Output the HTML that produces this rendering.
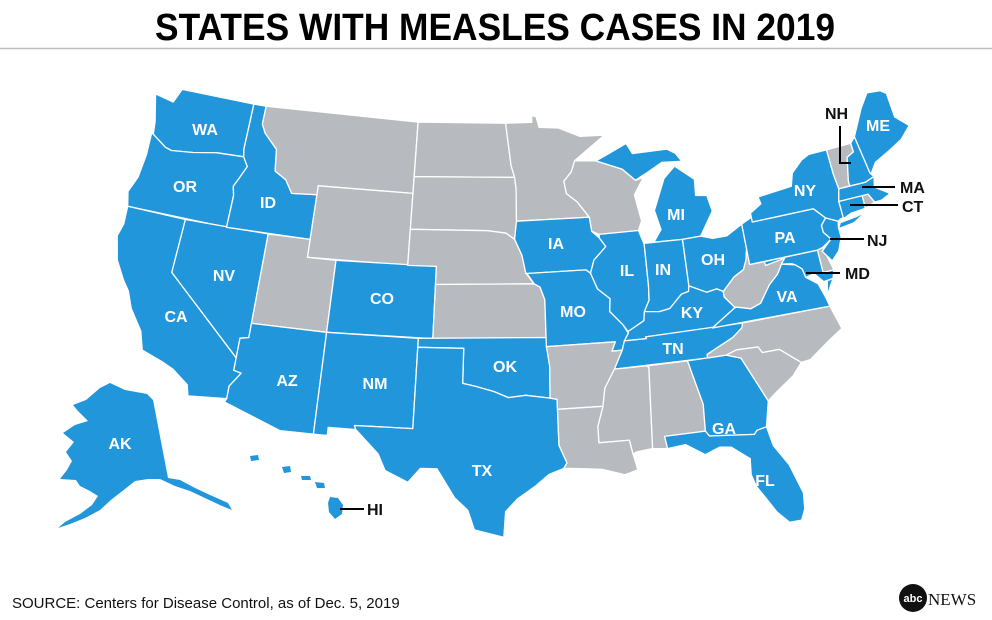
<!DOCTYPE html>
<html><head><meta charset="utf-8">
<style>
html,body{margin:0;padding:0;background:#fff;width:992px;height:620px;overflow:hidden}
svg{display:block}
</style></head>
<body>
<svg id="m" width="992" height="620" viewBox="0 0 992 620" xmlns="http://www.w3.org/2000/svg">
<text x="155" y="40" textLength="680" lengthAdjust="spacingAndGlyphs" font-family="Liberation Sans Narrow, Liberation Sans, sans-serif" font-weight="bold" font-size="38">STATES WITH MEASLES CASES IN 2019</text>
<line x1="0" y1="48.5" x2="992" y2="48.5" stroke="#bdbdbd" stroke-width="1.5"/>
<g id="states"></g>
<g id="labels" font-family="Liberation Sans, sans-serif" font-weight="bold" font-size="16" fill="#fff" text-anchor="middle"></g>
<g stroke="#000" stroke-width="2" fill="none">
<polyline points="840,126 840,163 851,163"/>
<line x1="862" y1="187" x2="895" y2="187"/>
<line x1="850" y1="205" x2="898" y2="205"/>
<line x1="830" y1="239" x2="864" y2="239"/>
<line x1="806" y1="273" x2="840" y2="273"/>
<line x1="340" y1="509" x2="364" y2="509"/>
</g>
<g font-family="Liberation Sans, sans-serif" font-weight="bold" font-size="16" fill="#111">
<text x="825" y="119">NH</text>
<text x="900" y="193">MA</text>
<text x="902" y="212">CT</text>
<text x="867" y="246">NJ</text>
<text x="845" y="279">MD</text>
<text x="367" y="515">HI</text>
</g>
<text x="12" y="608" font-family="Liberation Sans Narrow, Liberation Sans, sans-serif" font-size="15" fill="#111">SOURCE: Centers for Disease Control, as of Dec. 5, 2019</text>
<circle cx="913" cy="598" r="14" fill="#111"/>
<text x="913" y="602" text-anchor="middle" font-family="Liberation Sans, sans-serif" font-weight="bold" font-size="11" fill="#fff">abc</text>
<text x="928" y="605" font-family="Liberation Serif, serif" font-size="17" fill="#111">NEWS</text>
</svg>
<script>
var B="#2196db",G="#b7babe";
var S={
WA:[[-124.7,48.4],[-123.2,48.2],[-122.8,49],[-117.03,49],[-117.03,46.42],[-116.92,46.0],[-119.0,45.95],[-120.7,45.7],[-122.3,45.55],[-122.8,45.65],[-123.95,46.2],[-124.1,46.9]],
OR:[[-124.1,46.25],[-123.95,46.2],[-122.8,45.65],[-122.3,45.55],[-120.7,45.7],[-119,45.95],[-116.92,46.0],[-116.5,45.5],[-116.9,44.8],[-117.2,44.3],[-117.03,43.8],[-117.03,42],[-124.2,42],[-124.5,42.8],[-124.1,43.7],[-124.0,45]],
CA:[[-124.2,42],[-120,42],[-120,39],[-114.6,35],[-114.6,34.3],[-114.1,34.2],[-114.7,33.4],[-114.7,32.7],[-117.1,32.5],[-117.3,33.1],[-118.4,33.8],[-119.2,34.1],[-120.6,34.5],[-121.0,35.5],[-122.0,36.6],[-122.5,37.5],[-123.0,38.0],[-123.8,39.0],[-124.3,40.3],[-124.1,41.0]],
NV:[[-120,42],[-114.04,42],[-114.04,36.2],[-114.6,36.1],[-114.6,35],[-120,39]],
ID:[[-117.03,49],[-116.05,49],[-116.05,47.98],[-115.7,47.5],[-114.6,46.7],[-114.4,45.5],[-113.5,45.1],[-112.9,44.4],[-111.05,44.5],[-111.05,42],[-117.03,42],[-117.03,43.8],[-117.2,44.3],[-116.9,44.8],[-116.5,45.5],[-116.92,46.0],[-117.03,46.42]],
MT:[[-116.05,49],[-104.05,49],[-104.05,45],[-111.05,45],[-111.05,44.5],[-112.9,44.4],[-113.5,45.1],[-114.4,45.5],[-114.6,46.7],[-115.7,47.5],[-116.05,47.98]],
WY:[[-111.05,45],[-104.05,45],[-104.05,41],[-111.05,41]],
UT:[[-114.04,42],[-111.05,42],[-111.05,41],[-109.05,41],[-109.05,37],[-114.04,37]],
CO:[[-109.05,41],[-102.05,41],[-102.05,37],[-109.05,37]],
AZ:[[-114.04,37],[-109.05,37],[-109.05,31.33],[-111.1,31.33],[-114.8,32.5],[-114.7,32.7],[-114.7,33.4],[-114.1,34.2],[-114.6,34.3],[-114.6,35],[-114.6,36.1],[-114.04,36.2]],
NM:[[-109.05,37],[-103,37],[-103,32],[-106.6,32],[-106.5,31.78],[-108.2,31.78],[-108.2,31.33],[-109.05,31.33]],
ND:[[-104.05,49],[-97.2,49],[-96.8,46.6],[-96.55,45.94],[-104.05,45.94]],
SD:[[-104.05,45.94],[-96.55,45.94],[-96.45,45.3],[-96.45,43.5],[-96.6,42.5],[-97.2,42.85],[-98.5,43.0],[-104.05,43]],
NE:[[-104.05,43],[-98.5,43],[-97.2,42.85],[-96.6,42.5],[-96.1,41.6],[-95.85,40.6],[-95.3,40],[-102.05,40],[-102.05,41],[-104.05,41]],
KS:[[-102.05,40],[-95.3,40],[-94.9,39.8],[-94.6,39.1],[-94.6,37],[-102.05,37]],
OK:[[-103,37],[-94.6,37],[-94.43,35.4],[-94.48,33.64],[-96,33.85],[-97.1,33.75],[-98,34.1],[-99.2,34.4],[-100,34.56],[-100,36.5],[-103,36.5]],
TX:[[-106.6,32],[-103,32],[-103,36.5],[-100,36.5],[-100,34.56],[-99.2,34.4],[-98,34.1],[-97.1,33.75],[-96,33.85],[-94.48,33.64],[-94.04,33.55],[-94.04,31],[-93.6,30.0],[-93.8,29.7],[-94.7,29.4],[-95.5,28.8],[-96.6,28.1],[-97.3,27.4],[-97.4,26.0],[-97.2,25.9],[-99.1,26.4],[-99.5,27.5],[-100.3,28.2],[-101.4,29.8],[-102.4,29.8],[-103.1,29.0],[-104.5,29.6],[-105,30.5],[-106.5,31.78]],
MN:[[-97.2,49],[-95.15,49],[-95.15,49.38],[-94.8,49.3],[-94.6,48.7],[-93.1,48.6],[-91.5,48.05],[-89.6,48.0],[-92.0,46.7],[-92.3,46.1],[-92.9,45.6],[-92.75,44.9],[-92.0,44.4],[-91.2,43.5],[-96.45,43.5],[-96.45,45.3],[-96.55,45.94],[-96.8,46.6]],
IA:[[-96.45,43.5],[-91.2,43.5],[-91.1,42.7],[-90.6,42.3],[-90.2,41.8],[-91.1,41.1],[-91.4,40.4],[-91.7,40.6],[-95.77,40.58],[-95.85,40.6],[-96.1,41.6],[-96.6,42.5]],
MO:[[-95.77,40.58],[-91.7,40.6],[-91.4,40.4],[-91.0,39.5],[-90.2,38.9],[-90.3,38.2],[-89.5,37.4],[-89.2,36.9],[-89.5,36.5],[-89.7,36.0],[-90.37,36.0],[-90.1,36.5],[-94.6,36.5],[-94.6,39.1],[-94.9,39.8],[-95.3,40]],
AR:[[-94.6,36.5],[-90.1,36.5],[-90.37,36.0],[-89.7,36.0],[-90.1,35.1],[-91.0,34.0],[-91.2,33.0],[-94.04,33.0],[-94.04,33.55],[-94.48,33.64],[-94.43,35.4]],
LA:[[-94.04,33.0],[-91.2,33.0],[-91.6,31.9],[-91.6,31.0],[-89.75,31.0],[-89.6,30.2],[-89.4,29.3],[-90.2,29.1],[-91.5,29.5],[-92.5,29.6],[-93.8,29.7],[-93.6,30.0],[-94.04,31]],
WI:[[-92.0,46.7],[-90.4,46.6],[-88.5,46.0],[-87.6,45.3],[-87.0,45.4],[-87.8,44.5],[-87.5,43.0],[-87.8,42.5],[-90.6,42.5],[-91.1,42.7],[-91.2,43.5],[-92.0,44.4],[-92.75,44.9],[-92.9,45.6],[-92.3,46.1]],
IL:[[-90.6,42.5],[-87.8,42.5],[-87.5,41.7],[-87.53,39.4],[-87.6,38.6],[-88.0,38.0],[-88.1,37.5],[-89.2,37.0],[-89.5,37.4],[-90.3,38.2],[-90.2,38.9],[-91.0,39.5],[-91.4,40.4],[-91.1,41.1],[-90.2,41.8],[-90.6,42.3]],
MI:[[-86.8,41.76],[-84.8,41.7],[-83.5,41.73],[-83.1,42.2],[-82.4,43.0],[-82.6,43.9],[-83.4,44.0],[-83.3,44.9],[-84.6,45.8],[-85.5,45.2],[-86.2,44.0],[-86.5,43.5],[-86.2,42.4]],
MIU:[[-90.4,46.6],[-89.5,46.9],[-88.0,47.4],[-87.6,46.8],[-85.0,46.8],[-84.4,46.5],[-84.0,46.0],[-85.5,46.1],[-86.8,45.6],[-87.6,45.3],[-88.5,46.0]],
IN:[[-87.5,41.76],[-84.8,41.7],[-84.82,39.1],[-84.9,38.8],[-85.4,38.7],[-86.3,38.0],[-87.0,37.9],[-88.0,38.0],[-87.6,38.6],[-87.53,39.4],[-87.5,41.7]],
OH:[[-84.8,41.7],[-83.5,41.73],[-82.7,41.5],[-81.7,41.5],[-80.52,42.0],[-80.52,40.6],[-80.7,40.0],[-81.0,39.5],[-81.7,39.2],[-82.6,38.5],[-83.0,38.7],[-83.7,38.6],[-84.82,39.1]],
KY:[[-84.82,39.1],[-83.7,38.6],[-83.0,38.7],[-82.6,38.5],[-82.6,38.2],[-82.0,37.5],[-81.97,37.54],[-83.7,36.6],[-88.1,36.6],[-88.05,36.5],[-89.5,36.5],[-89.2,36.9],[-89.2,37.0],[-88.1,37.5],[-88.0,38.0],[-87.0,37.9],[-86.3,38.0],[-85.4,38.7],[-84.9,38.8]],
TN:[[-89.5,36.5],[-88.05,36.5],[-88.1,36.6],[-81.7,36.6],[-81.8,36.35],[-82.5,35.9],[-84.3,35.2],[-84.3,35.0],[-90.3,35.0],[-89.7,36.0]],
MS:[[-91.2,33.0],[-91.0,34.0],[-90.3,35.0],[-88.2,35.0],[-88.1,34.9],[-88.4,30.4],[-89.4,30.3],[-89.6,30.2],[-89.75,31.0],[-91.6,31.0],[-91.6,31.9]],
AL:[[-88.2,35.0],[-85.6,35.0],[-85.0,32.5],[-85.1,31.0],[-87.6,31.0],[-87.5,30.3],[-88.4,30.4],[-88.1,34.9]],
GA:[[-85.6,35.0],[-83.1,35.0],[-82.2,34.7],[-81.0,32.1],[-81.4,30.7],[-82.0,30.6],[-82.2,30.4],[-84.9,30.7],[-85.1,31.0],[-85.0,32.5]],
FL:[[-87.6,31.0],[-85.1,31.0],[-84.9,30.7],[-82.2,30.4],[-82.0,30.6],[-81.4,30.7],[-81.2,29.6],[-80.5,28.4],[-80.0,26.7],[-80.1,25.8],[-80.4,25.2],[-81.1,25.2],[-81.7,25.9],[-82.2,26.8],[-82.6,27.5],[-82.8,28.2],[-82.7,29.1],[-83.7,29.9],[-84.4,30.0],[-85.3,29.7],[-86.4,30.4],[-87.5,30.3]],
SC:[[-83.1,35.0],[-82.4,35.2],[-81.0,35.15],[-80.8,34.8],[-79.7,34.8],[-78.5,33.85],[-79.2,33.2],[-80.4,32.5],[-81.0,32.1],[-82.2,34.7]],
NC:[[-84.3,35.0],[-84.3,35.2],[-82.5,35.9],[-81.8,36.35],[-81.7,36.6],[-75.9,36.55],[-75.5,35.2],[-76.5,34.7],[-77.9,33.9],[-78.5,33.85],[-79.7,34.8],[-80.8,34.8],[-81.0,35.15],[-82.4,35.2],[-83.1,35.0]],
VA:[[-83.7,36.6],[-75.9,36.55],[-76.0,37.0],[-76.3,37.9],[-77.0,38.4],[-77.1,38.9],[-77.5,39.2],[-78.4,39.4],[-78.8,38.9],[-79.5,38.4],[-80.3,37.5],[-81.0,37.3],[-81.97,37.54]],
VAE:[[-75.9,37.15],[-75.25,38.0],[-75.65,37.95]],
WV:[[-81.97,37.54],[-81.0,37.3],[-80.3,37.5],[-79.5,38.4],[-78.8,38.9],[-78.4,39.4],[-77.7,39.3],[-77.8,39.7],[-78.1,39.72],[-79.48,39.72],[-80.52,39.72],[-80.52,40.6],[-80.7,40.0],[-81.0,39.5],[-81.7,39.2],[-82.6,38.5],[-82.6,38.2],[-82.0,37.5]],
MD:[[-79.48,39.72],[-75.79,39.72],[-75.79,38.45],[-75.05,38.45],[-75.25,38.0],[-75.9,37.95],[-76.4,38.5],[-77.0,38.4],[-77.1,38.9],[-77.5,39.2],[-77.7,39.3],[-78.4,39.4],[-78.1,39.68],[-79.48,39.5]],
DE:[[-75.79,39.72],[-75.4,39.8],[-75.05,38.45],[-75.79,38.45]],
PA:[[-80.52,42.0],[-80.52,39.72],[-75.79,39.72],[-75.4,39.8],[-74.7,40.15],[-75.1,40.6],[-75.1,41.0],[-74.7,41.35],[-75.36,42.0],[-79.76,42.0],[-79.76,42.27]],
NJ:[[-74.7,41.35],[-75.1,41.0],[-75.1,40.6],[-74.7,40.15],[-75.5,39.6],[-75.0,38.95],[-74.4,39.4],[-74.0,40.1],[-74.0,40.7],[-73.9,41.0]],
NY:[[-79.76,42.0],[-79.76,42.5],[-78.9,42.9],[-79.0,43.3],[-76.5,43.5],[-76.2,44.2],[-75.3,44.8],[-74.7,45.0],[-73.35,45.0],[-73.35,43.6],[-73.26,42.73],[-73.5,42.05],[-73.5,41.1],[-73.7,41.1],[-73.9,41.0],[-74.7,41.35],[-75.36,42.0]],
NYL:[[-74.0,40.6],[-73.8,40.9],[-72.6,41.0],[-71.9,41.1],[-72.9,40.7]],
VT:[[-73.35,45.0],[-71.5,45.0],[-71.5,44.5],[-72.05,44.3],[-72.45,43.0],[-72.45,42.73],[-73.26,42.73],[-73.35,43.6]],
NH:[[-71.5,45.0],[-71.1,45.3],[-70.8,43.1],[-70.6,42.87],[-71.3,42.7],[-72.45,42.73],[-72.45,43.0],[-72.05,44.3],[-71.5,44.5]],
ME:[[-71.1,45.3],[-70.0,46.7],[-69.2,47.45],[-68.2,47.35],[-67.8,47.1],[-67.8,45.7],[-67.0,45.0],[-67.9,44.4],[-69.0,44.0],[-70.2,43.6],[-70.7,43.1],[-70.8,43.1]],
MA:[[-73.26,42.73],[-71.3,42.7],[-70.6,42.87],[-70.8,42.3],[-70.0,41.8],[-70.0,42.05],[-69.95,41.7],[-70.6,41.5],[-71.1,41.5],[-71.38,42.02],[-71.8,42.02],[-73.5,42.05]],
RI:[[-71.8,42.02],[-71.38,42.02],[-71.1,41.5],[-71.85,41.3]],
CT:[[-73.5,42.05],[-71.8,42.02],[-71.85,41.3],[-72.9,41.25],[-73.7,41.0],[-73.5,41.1]]
};
var blue="WA OR CA NV ID AZ NM CO TX OK IA MO IL IN MI MIU OH KY TN PA NY NYL NJ MD VA VAE GA FL CT MA NH ME".split(" ");
var r=Math.PI/180,p1=29.5*r,p2=45.5*r,n=(Math.sin(p1)+Math.sin(p2))/2,C=Math.cos(p1)*Math.cos(p1)+2*n*Math.sin(p1),l0=-96*r,f0=37.5*r;
var rho0=Math.sqrt(C-2*n*Math.sin(f0))/n;
function alb(lo,la){var rho=Math.sqrt(C-2*n*Math.sin(la*r))/n,t=n*(lo*r-l0);return [rho*Math.sin(t),rho0-rho*Math.cos(t)];}
var ref=[[-124.7,48.4,148,98],[-117.03,49,247,105],[-120,42,187,222],[-114.04,42,268,235],[-109.05,41,338,260],[-102.05,41,437,263],[-109.05,37,333,333],[-102.05,37,437,337],[-120,39,177,273],[-104.05,49,413,120],[-97.2,25.9,510,540],[-80.4,25.2,790,527],[-85.0,31,702,437],[-94.04,33,560,408],[-69.2,47.45,880,92],[-67,45,907,130],[-73.26,42.73,837,188],[-87.5,41.76,643,243],[-80.52,42,740,223],[-75.36,42,820,208],[-81.7,36.6,737,325],[-84.6,45.8,670,167],[-90.3,35,623,350]];
function solve3(M,v){var A=M.map(function(row,i){return row.concat([v[i]]);});
for(var i=0;i<3;i++){var p=i;for(var j=i+1;j<3;j++)if(Math.abs(A[j][i])>Math.abs(A[p][i]))p=j;var t=A[i];A[i]=A[p];A[p]=t;
for(var j=0;j<3;j++){if(j==i)continue;var f=A[j][i]/A[i][i];for(var k=i;k<4;k++)A[j][k]-=f*A[i][k];}}
return [A[0][3]/A[0][0],A[1][3]/A[1][1],A[2][3]/A[2][2]];}
var M=[[0,0,0],[0,0,0],[0,0,0]],vx=[0,0,0],vy=[0,0,0];
ref.forEach(function(q){var a=alb(q[0],q[1]),f=[1,a[0],a[1]];for(var i=0;i<3;i++){for(var j=0;j<3;j++)M[i][j]+=f[i]*f[j];vx[i]+=f[i]*q[2];vy[i]+=f[i]*q[3];}});
var cx=solve3(M,vx),cy=solve3(M,vy);
function P(lo,la){var v=alb(lo,la);return [cx[0]+cx[1]*v[0]+cx[2]*v[1],cy[0]+cy[1]*v[0]+cy[2]*v[1]];}
var g=document.getElementById("states"),h="";
for(var k in S){var d=S[k].map(function(q){var v=P(q[0],q[1]);return v[0].toFixed(1)+","+v[1].toFixed(1);}).join(" ");
h+='<polygon points="'+d+'" fill="'+(blue.indexOf(k)>=0?B:G)+'" stroke="#fff" stroke-width="1.3" stroke-linejoin="round"/>';}
h+='<polygon fill="'+B+'" points="100,388 110,383 125,390 147,394 153,400 168,478 180,480 195,488 210,495 228,503 232,510 222,506 205,498 190,491 175,486 160,479 148,479 135,481 125,489 112,499 100,510 85,518 70,524 58,528 65,522 80,514 92,505 98,496 90,491 80,486 76,480 60,479 67,470 72,461 66,452 74,442 63,433 75,425 88,421 78,411 73,405 86,400"/>';
h+='<g fill="'+B+'"><polygon points="250,456 258,455 259,460 251,461"/><polygon points="282,467 290,466 291,472 284,473"/><polygon points="301,476 310,476 311,480 302,480"/><polygon points="315,482 324,483 325,488 317,488"/><polygon points="330,497 338,498 343,505 342,514 335,519 329,512 328,503"/></g>';
g.innerHTML=h;
var L=[["WA",205,135],["OR",185,192],["ID",268,208],["NV",224,281],["CA",176,322],["AZ",287,386],["NM",375,389],["CO",382,304],["TX",482,476],["OK",505,372],["IA",556,249],["MO",573,317],["IL",627,276],["IN",663,275],["MI",676,220],["OH",713,265],["KY",692,318],["TN",673,354],["GA",724,434],["FL",765,486],["PA",785,243],["NY",805,196],["VA",787,302],["AK",120,449],["ME",878,131]];
document.getElementById("labels").innerHTML=L.map(function(q){return '<text x="'+q[1]+'" y="'+q[2]+'">'+q[0]+'</text>';}).join("");
</script>
</body></html>
